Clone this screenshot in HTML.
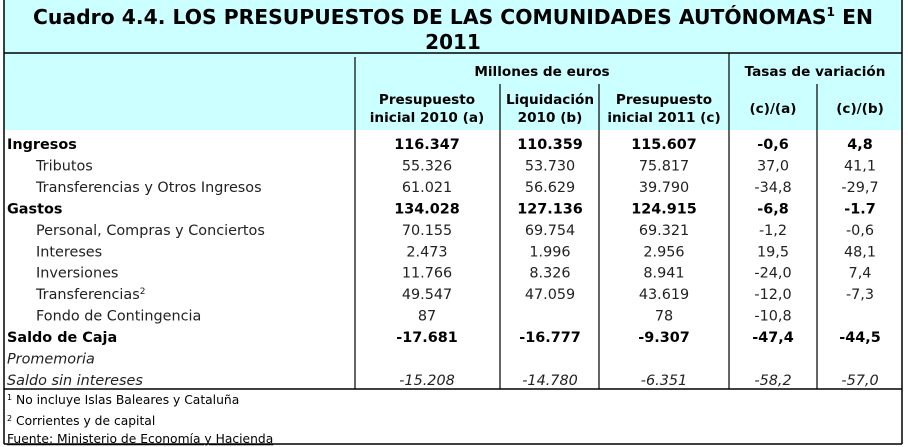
<!DOCTYPE html>
<html><head><meta charset="utf-8"><style>
html,body{margin:0;padding:0;background:#fff;}
svg{display:block;font-family:"DejaVu Sans","Liberation Sans",sans-serif;}
</style></head><body>
<svg width="908" height="447" viewBox="0 0 908 447">
<rect x="4" y="0" width="898" height="53" fill="#CCFFFF"/>
<rect x="4" y="53" width="898" height="77" fill="#CCFFFF"/>
<g font-weight="bold" font-size="20" fill="#000" text-anchor="middle">
<text x="453" y="24" textLength="840" lengthAdjust="spacingAndGlyphs">Cuadro 4.4. LOS PRESUPUESTOS DE LAS COMUNIDADES AUTÓNOMAS<tspan font-size="12" dy="-8">1</tspan><tspan dy="8"> EN</tspan></text>
<text x="453" y="49">2011</text>
</g>
<g stroke="#000" stroke-width="1.5" fill="none">
<line x1="4" y1="0" x2="4" y2="444"/>
<line x1="902" y1="0" x2="902" y2="444"/>
<line x1="4" y1="53" x2="902" y2="53"/>
<line x1="4" y1="389" x2="902" y2="389"/>
<line x1="4" y1="444" x2="902" y2="444"/>
</g>
<g stroke="#000" stroke-width="1.2">
<line x1="355" y1="57" x2="355" y2="389"/>
<line x1="729" y1="53" x2="729" y2="389"/>
<line x1="500" y1="84" x2="500" y2="389"/>
<line x1="599" y1="84" x2="599" y2="389"/>
<line x1="817" y1="84" x2="817" y2="389"/>
</g>
<g font-weight="bold" font-size="13.6" text-anchor="middle">
<text x="542" y="76">Millones de euros</text>
<text x="815" y="76">Tasas de variación</text>
<text x="427" y="104">Presupuesto</text><text x="427" y="122">inicial 2010 (a)</text>
<text x="550" y="104">Liquidación</text><text x="550" y="122">2010 (b)</text>
<text x="664" y="104">Presupuesto</text><text x="664" y="122">inicial 2011 (c)</text>
<text x="773" y="113">(c)/(a)</text>
<text x="860" y="113">(c)/(b)</text>
</g>
<g font-size="14.4" fill="#222" id="body"></g>
<g font-size="12.3" fill="#000">
<text x="7" y="404"><tspan font-size="8" dy="-4">1</tspan><tspan dy="4"> No incluye Islas Baleares y Cataluña</tspan></text>
<text x="7" y="425"><tspan font-size="8" dy="-4">2</tspan><tspan dy="4"> Corrientes y de capital</tspan></text>
<text x="7" y="443" text-decoration="underline">Fuente: Ministerio de Economía y Hacienda</text>
</g>
</svg>
<script>
const labels=["Ingresos","Tributos","Transferencias y Otros Ingresos","Gastos","Personal, Compras y Conciertos","Intereses","Inversiones","Transferencias","Fondo de Contingencia","Saldo de Caja","Promemoria","Saldo sin intereses"];
const styles=["b","n","n","b","n","n","n","n","n","b","i","i"];
const colA=["116.347","55.326","61.021","134.028","70.155","2.473","11.766","49.547","87","-17.681","","-15.208"];
const colB=["110.359","53.730","56.629","127.136","69.754","1.996","8.326","47.059","","-16.777","","-14.780"];
const colC=["115.607","75.817","39.790","124.915","69.321","2.956","8.941","43.619","78","-9.307","","-6.351"];
const colCA=["-0,6","37,0","-34,8","-6,8","-1,2","19,5","-24,0","-12,0","-10,8","-47,4","","-58,2"];
const colCB=["4,8","41,1","-29,7","-1.7","-0,6","48,1","7,4","-7,3","","-44,5","","-57,0"];
const g=document.getElementById('body');
const NS="http://www.w3.org/2000/svg";
const centers=[427,550,664,773,860];
const cols=[colA,colB,colC,colCA,colCB];
function rowY(i){return 149+i*21.45;}
labels.forEach((lab,i)=>{
  const y=rowY(i);
  const t=document.createElementNS(NS,'text');
  
  
  t.setAttribute('x',styles[i]==="n"?36:7);
  t.setAttribute('y',y);
  if(styles[i]==="b"){t.setAttribute('font-weight','bold');t.setAttribute('fill','#000');}
  if(styles[i]==="i")t.setAttribute('font-style','italic');
  t.textContent=lab;
  if(lab==="Transferencias"){const s=document.createElementNS(NS,'tspan');s.setAttribute('font-size','9');s.setAttribute('dy','-5');s.textContent='2';t.appendChild(s);}
  g.appendChild(t);
  cols.forEach((c,j)=>{
    if(!c[i])return;
    const v=document.createElementNS(NS,'text');
    
    
    v.setAttribute('x',centers[j]);v.setAttribute('y',y);
    v.setAttribute('text-anchor','middle');
    if(styles[i]==="b"){v.setAttribute('font-weight','bold');v.setAttribute('fill','#000');}
    if(styles[i]==="i")v.setAttribute('font-style','italic');
    v.textContent=c[i];
    g.appendChild(v);
  });
});
</script>
</body></html>
